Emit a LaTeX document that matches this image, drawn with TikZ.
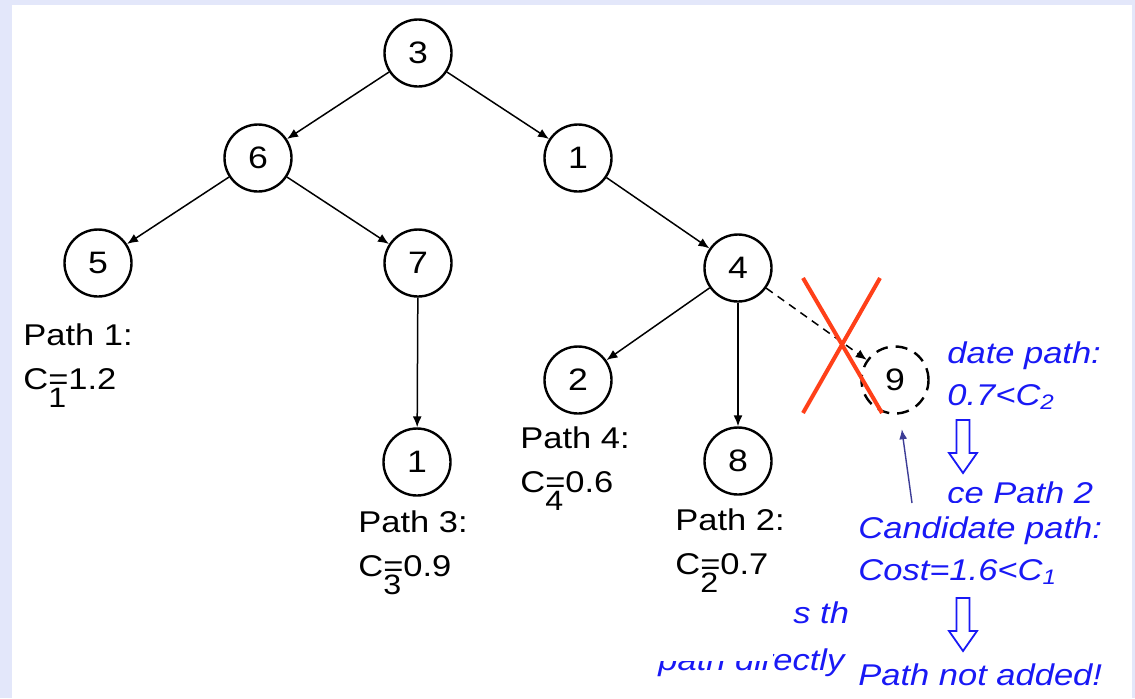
\documentclass[tikz,border=0pt]{standalone}
\usepackage{fontspec}
\setmainfont{Liberation Sans}[FakeStretch=1.15]
\usetikzlibrary{arrows.meta,positioning}
\definecolor{frame}{RGB}{227,231,250}
\definecolor{note}{RGB}{25,25,245}
\definecolor{cross}{RGB}{255,64,25}
\definecolor{pointer}{RGB}{60,60,150}
\newcommand{\lowsub}[1]{\rlap{\raisebox{-0.62em}{\fontsize{14}{14}\selectfont #1}}}
\tikzset{state/.style = {draw, circle, line width=1.2pt, minimum size=33.5pt, inner sep=0pt, font=\fontsize{15.5}{18}\selectfont},
         pruned/.style = {state, dash pattern=on 6pt off 4pt},
         cost/.style = {align=left, inner sep=0pt, font=\fontsize{15}{22}\selectfont},
         remark/.style = {align=left, inner sep=0pt, text=note, font=\fontsize{15}{21}\selectfont\itshape},
         edge/.style = {-{Latex[length=5.5pt, width=4.5pt]}, line width=0.75pt},
         hollowdown/.pic = {\draw[note, line width=0.9pt, line join=miter]
           (-6.5,0) -- (6.5,0) -- (6.5,33) -- (14,33) -- (0,53) -- (-14,33) -- (-6.5,33) -- cycle;},
}

\begin{document}
\begin{tikzpicture}[x=0.5pt, y=-0.5pt]

  \fill[frame] (0,0) rectangle (1135,698);
  \fill[white] (12,5) rectangle (1132,698);
  \useasboundingbox (0,0) rectangle (1135,698);

  % search tree
  \node[state] (n3)  at (418,53)  {3};
  \node[state] (n6)  at (258,158) {6};
  \node[state] (n1a) at (578,158) {1};
  \node[state] (n5)  at (98,263)  {5};
  \node[state] (n7)  at (418,263) {7};
  \node[state] (n4)  at (738,268) {4};
  \node[state] (n2)  at (578,380) {2};
  \node[state] (n1b) at (417,462) {1};
  \node[state] (n8)  at (738,461) {8};
  \node[pruned] (n9) at (895,380) {9};

  \draw[edge] (n3) -- (n6);
  \draw[edge] (n3) -- (n1a);
  \draw[edge] (n6) -- (n5);
  \draw[edge] (n6) -- (n7);
  \draw[edge] (n7) -- (n1b);
  \draw[edge] (n1a) -- (n4);
  \draw[edge] (n4) -- (n2);
  \draw[edge] (n4) -- (n8);
  \draw[edge, dash pattern=on 4pt off 3pt] (n4) -- (n9);

  % text left behind the boxes
  \node[remark, anchor=base west] (old1) at (947,405) {date path:\\0.7<C\textsubscript{2}};
  \node[remark, anchor=base west] (old2) at (947,503) {ce Path 2};
  \node[remark, anchor=base west] (old3) at (793,623) {s the};
  \node[remark, anchor=base west] (old4) at (658,670) {path directly};
  \fill[white] (650,640) rectangle (773,661);
  \fill[white] (848,503) rectangle (1132,698);

  % costs
  \node[cost, anchor=base west] (c1) at (23,389)  {Path 1:\\C\lowsub{1}=1.2};
  \node[cost, anchor=base west] (c3) at (358,576) {Path 3:\\C\lowsub{3}=0.9};
  \node[cost, anchor=base west] (c4) at (520,492) {Path 4:\\C\lowsub{4}=0.6};
  \node[cost, anchor=base west] (c2) at (675,574) {Path 2:\\C\lowsub{2}=0.7};

  \node[remark, anchor=base west] (cand) at (858,580) {Candidate path:\\Cost=1.6<C\textsubscript{1}};
  \pic at (963,420) {hollowdown};
  \pic at (963,598) {hollowdown};
  \node[remark, anchor=base west] (verdict) at (858,685) {Path not added!};
  \coordinate (tail) at (912,503);
  \draw[-{Latex[length=5pt, width=4pt]}, pointer, line width=0.7pt, shorten >=7.5pt] (tail) -- (n9);

  \draw[cross, line width=2pt] (803,278) -- (882,413) (880,278) -- (803,413);

\end{tikzpicture}
\end{document}
